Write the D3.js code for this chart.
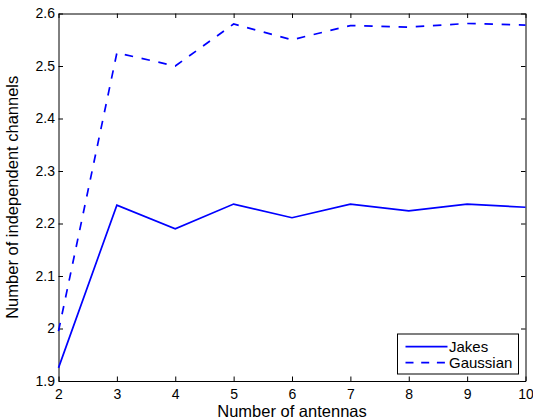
<!DOCTYPE html>
<html>
<head>
<meta charset="utf-8">
<script src="https://cdn.jsdelivr.net/npm/d3@7"></script>
<style>
  body { margin: 0; background: #fff; }
  text { font-family: Arial, "Liberation Sans", Helvetica, sans-serif; fill: #000; }
</style>
</head>
<body>
<div id="plot-container"></div>
<script>
// data
var antennas = [2, 3, 4, 5, 6, 7, 8, 9, 10]
var jakes    = [1.925, 2.235, 2.190, 2.237, 2.211, 2.237, 2.224, 2.237, 2.231]
var gaussian = [1.995, 2.525, 2.500, 2.580, 2.550, 2.577, 2.574, 2.581, 2.578]
var xTicks = [2, 3, 4, 5, 6, 7, 8, 9, 10]
var yTicks = [1.9, 2, 2.1, 2.2, 2.3, 2.4, 2.5, 2.6]

// margin convention (no "top" global, window.top is read only)
var W = 533, H = 420
var mLeft = 58.5, mTop = 13.5, mRight = 7.5, mBottom = 39
var width = W - mLeft - mRight
var height = H - mTop - mBottom

var xScale = d3.scaleLinear().domain([2, 10]).range([0, width])
var yScale = d3.scaleLinear().domain([1.9, 2.6]).range([height, 0])

var svg = d3.select('#plot-container').append('svg')
  .attr('width', W).attr('height', H)
  .append('g')
  .attr('transform', 'translate(' + mLeft + ',' + mTop + ')')

var fmt = d => String(+d.toFixed(1))
var tickLen = 4.5

// bottom / left axes with labels, ticks pointing in
svg.append('g').attr('transform', 'translate(0,' + height + ')')
  .call(d3.axisBottom(xScale).tickValues(xTicks).tickSizeInner(-tickLen).tickSizeOuter(0).tickPadding(8))
svg.append('g')
  .call(d3.axisLeft(yScale).tickValues(yTicks).tickFormat(fmt).tickSizeInner(-tickLen).tickSizeOuter(0).tickPadding(3.5))
// top / right axes, ticks only
svg.append('g')
  .call(d3.axisTop(xScale).tickValues(xTicks).tickSizeInner(-tickLen).tickSizeOuter(0).tickFormat(''))
svg.append('g').attr('transform', 'translate(' + width + ',0)')
  .call(d3.axisRight(yScale).tickValues(yTicks).tickSizeInner(-tickLen).tickSizeOuter(0).tickFormat(''))

svg.selectAll('.domain').attr('stroke', '#000').attr('stroke-width', 1)
svg.selectAll('.tick line').attr('stroke', '#000').attr('stroke-width', 1)
svg.selectAll('.tick text').style('font-size', '14px').attr('fill', '#000')

var line = d3.line().x((d, i) => xScale(antennas[i])).y(d => yScale(d))

svg.append('path').datum(jakes)
  .attr('d', line).attr('fill', 'none')
  .attr('stroke', '#0000ff').attr('stroke-width', 1.7)

svg.append('path').datum(gaussian)
  .attr('d', line).attr('fill', 'none')
  .attr('stroke', '#0000ff').attr('stroke-width', 1.7)
  .attr('stroke-dasharray', '8.5,8.7')

// axis labels
svg.append('text')
  .attr('x', width / 2).attr('y', height + 35.5)
  .attr('text-anchor', 'middle').style('font-size', '16.5px')
  .text('Number of antennas')

svg.append('text')
  .attr('transform', 'translate(' + (-40.5) + ',' + (height / 2) + ') rotate(-90)')
  .attr('text-anchor', 'middle').style('font-size', '16.5px')
  .text('Number of independent channels')

// legend
var lg = svg.append('g').attr('transform', 'translate(' + (397.5 - mLeft) + ',' + (334 - mTop) + ')')
lg.append('rect').attr('width', 121).attr('height', 40)
  .attr('fill', '#fff').attr('stroke', '#000').attr('stroke-width', 1)
var items = [['Jakes', null], ['Gaussian', '8,7.7']]
items.forEach(function (it, i) {
  var yy = 12.7 + i * 16
  lg.append('line').attr('x1', 8).attr('x2', 50).attr('y1', yy).attr('y2', yy)
    .attr('stroke', '#0000ff').attr('stroke-width', 1.7)
    .attr('stroke-dasharray', it[1])
  lg.append('text').attr('x', 51.5).attr('y', yy).attr('dy', '0.35em')
    .style('font-size', '15px').text(it[0])
})
</script>
</body>
</html>
